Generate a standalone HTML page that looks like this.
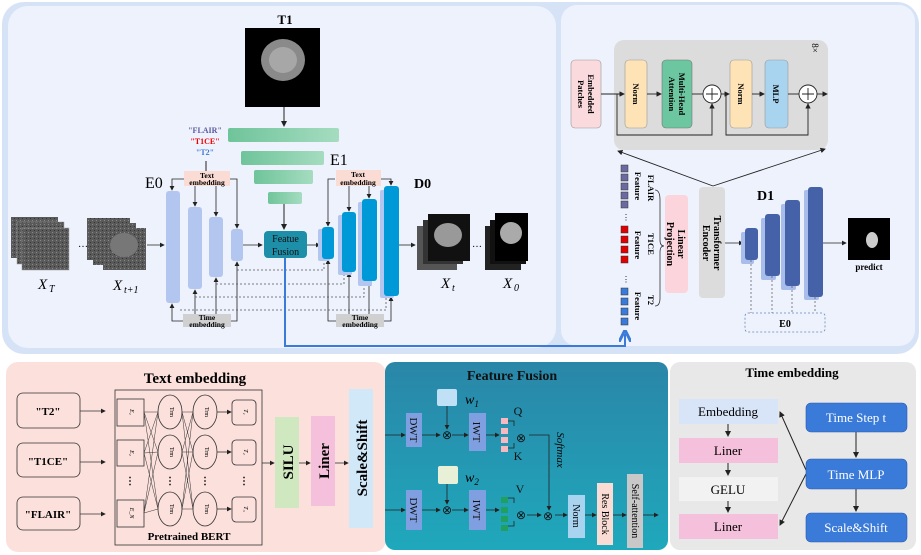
<!DOCTYPE html>
<html><head><meta charset="utf-8"><style>
html,body{margin:0;padding:0;background:#fff;}
svg{display:block;font-family:"Liberation Serif",serif;}
</style></head><body>
<svg width="921" height="555" viewBox="0 0 921 555" xmlns="http://www.w3.org/2000/svg">
<defs>
<marker id="a" markerWidth="6" markerHeight="6" refX="5" refY="3" orient="auto"><path d="M0,0 L6,3 L0,6 z" fill="#222"/></marker>
<marker id="ab" markerWidth="6" markerHeight="6" refX="4" refY="3" orient="auto"><path d="M0,0 L6,3 L0,6" fill="none" stroke="#3a7ad8" stroke-width="1.5"/></marker>
<linearGradient id="g" x1="0" x2="1"><stop offset="0" stop-color="#6fc49a"/><stop offset="1" stop-color="#a5dcc0"/></linearGradient>
<linearGradient id="ff" x1="0" y1="0" x2="0" y2="1"><stop offset="0" stop-color="#2a86a8"/><stop offset="1" stop-color="#1fa8bc"/></linearGradient>
<pattern id="noise" width="4" height="4" patternUnits="userSpaceOnUse"><rect width="4" height="4" fill="#5a5a5a"/><rect width="1" height="1" fill="#888"/><rect x="2" y="2" width="1" height="1" fill="#333"/></pattern>
</defs>
<!-- outer top -->
<rect x="2" y="2" width="917" height="352" rx="22" fill="#d6e3f7"/>
<rect x="8" y="6" width="548" height="342" rx="20" fill="#eef2fc"/>
<rect x="561" y="5" width="354" height="341" rx="16" fill="#eef2fc"/>
<!-- T1 -->
<text x="285" y="24" font-size="13" font-weight="bold" text-anchor="middle">T1</text>
<rect x="245" y="28" width="75" height="79" fill="#000"/>
<ellipse cx="283" cy="60" rx="22" ry="21" fill="#8a8a8a"/>
<ellipse cx="283" cy="60" rx="14" ry="13" fill="#bbb" opacity=".6"/>
<line x1="284" y1="107" x2="284" y2="126" stroke="#222" marker-end="url(#a)"/>
<rect x="228" y="128" width="111" height="14" rx="2" fill="url(#g)"/>
<rect x="241" y="151" width="83" height="14" rx="2" fill="url(#g)"/>
<rect x="254" y="170" width="59" height="14" rx="2" fill="url(#g)"/>
<rect x="268" y="192" width="34" height="12" rx="2" fill="url(#g)"/>
<text x="330" y="165" font-size="16">E1</text>
<line x1="284" y1="204" x2="284" y2="229" stroke="#222" marker-end="url(#a)"/>
<text x="205" y="133" font-size="8" font-weight="bold" text-anchor="middle" fill="#5a5aa0">"FLAIR"</text>
<text x="205" y="144" font-size="8" font-weight="bold" text-anchor="middle" fill="#e00">"T1CE"</text>
<text x="205" y="155" font-size="8" font-weight="bold" text-anchor="middle" fill="#3a7ad8">"T2"</text>
<line x1="206" y1="161" x2="206" y2="171" stroke="#222"/>
<!-- E0 text emb -->
<rect x="184" y="171" width="46" height="15" fill="#fadcd4"/>
<text x="207" y="178" font-size="7.5" font-weight="bold" text-anchor="middle">Text</text>
<text x="207" y="185" font-size="7.5" font-weight="bold" text-anchor="middle">embedding</text>
<text x="145" y="188" font-size="16">E0</text>
<g fill="none" stroke="#222" stroke-width="0.8">
<path d="M184,179 H172 V190" marker-end="url(#a)"/><path d="M230,179 H237 V228" marker-end="url(#a)"/>
<line x1="195" y1="186" x2="195" y2="206" marker-end="url(#a)"/><line x1="216" y1="186" x2="216" y2="216" marker-end="url(#a)"/>
<path d="M335,179 H328 V226" marker-end="url(#a)"/><path d="M381,179 H391 V185" marker-end="url(#a)"/>
<line x1="349" y1="186" x2="349" y2="211" marker-end="url(#a)"/><line x1="369" y1="186" x2="369" y2="198" marker-end="url(#a)"/>
<path d="M183,321 H172 V304" marker-end="url(#a)"/><path d="M231,321 H237 V262" marker-end="url(#a)"/>
<line x1="195" y1="314" x2="195" y2="290" marker-end="url(#a)"/><line x1="216" y1="314" x2="216" y2="278" marker-end="url(#a)"/>
<path d="M336,321 H328 V260" marker-end="url(#a)"/><path d="M384,321 H391 V297" marker-end="url(#a)"/>
<line x1="349" y1="314" x2="349" y2="273" marker-end="url(#a)"/><line x1="369" y1="314" x2="369" y2="282" marker-end="url(#a)"/>
<line x1="147" y1="245" x2="164" y2="245" marker-end="url(#a)"/>
<line x1="243" y1="245" x2="262" y2="245" marker-end="url(#a)"/>
<line x1="307" y1="245" x2="320" y2="245" marker-end="url(#a)"/>
<line x1="399" y1="245" x2="415" y2="245" marker-end="url(#a)"/>
</g>
<g stroke="#555" stroke-width="0.8" stroke-dasharray="2,2" fill="none">
<path d="M237,270 H324 V262"/><path d="M216,284 H344 V275"/><path d="M195,297 H364 V284"/><path d="M180,310 H386 V298"/>
</g>
<g fill="#b3c6f0"><rect x="166" y="191" width="14" height="112" rx="3"/><rect x="188" y="207" width="14" height="82" rx="3"/><rect x="209" y="217" width="14" height="60" rx="3"/><rect x="231" y="229" width="12" height="32" rx="3"/></g>
<rect x="264" y="231" width="43" height="27" rx="4" fill="#1e8fa8"/>
<text x="285.5" y="242" font-size="10" text-anchor="middle" fill="#111">Featue</text>
<text x="285.5" y="255" font-size="10" text-anchor="middle" fill="#111">Fusion</text>
<g fill="#b3c6f0"><rect x="318" y="229" width="12" height="32" rx="2"/><rect x="338" y="215" width="14" height="60" rx="2"/><rect x="358" y="202" width="14" height="84" rx="2"/><rect x="380" y="190" width="14" height="108" rx="2"/></g>
<g fill="#0099d8"><rect x="322" y="227" width="12" height="32" rx="3"/><rect x="342" y="212" width="14" height="60" rx="3"/><rect x="362" y="199" width="15" height="82" rx="3"/><rect x="384" y="186" width="15" height="110" rx="3"/></g>
<rect x="336" y="170" width="45" height="16" fill="#fadcd4"/>
<text x="358" y="177" font-size="7.5" font-weight="bold" text-anchor="middle">Text</text>
<text x="358" y="185" font-size="7.5" font-weight="bold" text-anchor="middle">embedding</text>
<text x="414" y="188" font-size="14" font-weight="bold">D0</text>
<rect x="183" y="314" width="48" height="13" fill="#d0d0d0"/>
<text x="207" y="320" font-size="7.5" font-weight="bold" text-anchor="middle">Time</text>
<text x="207" y="327" font-size="7.5" font-weight="bold" text-anchor="middle">embedding</text>
<rect x="336" y="314" width="48" height="13" fill="#d0d0d0"/>
<text x="360" y="320" font-size="7.5" font-weight="bold" text-anchor="middle">Time</text>
<text x="360" y="327" font-size="7.5" font-weight="bold" text-anchor="middle">embedding</text>
<!-- images -->
<rect x="11" y="217" width="47" height="41" fill="url(#noise)"/><rect x="17" y="222" width="47" height="42" fill="url(#noise)" stroke="#999" stroke-width=".5"/><rect x="22" y="228" width="47" height="42" fill="url(#noise)" stroke="#999" stroke-width=".5"/>
<text x="78" y="247" font-size="10">…</text>
<rect x="87" y="218" width="43" height="42" fill="url(#noise)"/><rect x="93" y="223" width="43" height="42" fill="url(#noise)"/><rect x="103" y="228" width="43" height="42" fill="url(#noise)"/>
<ellipse cx="124" cy="245" rx="14" ry="12" fill="#777"/>
<text x="38" y="289" font-size="15" font-style="italic">X</text><text x="49" y="292" font-size="10" font-style="italic">T</text>
<text x="113" y="290" font-size="15" font-style="italic">X</text><text x="124" y="293" font-size="10" font-style="italic">t+1</text>
<rect x="417" y="226" width="40" height="44" fill="#555"/><rect x="423" y="220" width="40" height="44" fill="#333"/><rect x="428" y="214" width="42" height="47" fill="#111"/>
<ellipse cx="448" cy="235" rx="14" ry="12" fill="#999"/>
<text x="441" y="288" font-size="15" font-style="italic">X</text><text x="452" y="291" font-size="10" font-style="italic">t</text>
<text x="472" y="247" font-size="10">…</text>
<rect x="485" y="226" width="36" height="44" fill="#222"/><rect x="490" y="220" width="36" height="44" fill="#111"/><rect x="495" y="213" width="33" height="48" fill="#000"/>
<ellipse cx="511" cy="233" rx="11" ry="11" fill="#aaa"/>
<text x="503" y="288" font-size="15" font-style="italic">X</text><text x="514" y="291" font-size="10" font-style="italic">0</text>
<path d="M285,258 V346 H625 V334" fill="none" stroke="#3a7ad8" stroke-width="2" marker-end="url(#ab)"/>
<!-- right panel -->
<rect x="614" y="40" width="214" height="110" rx="10" fill="#dcdcdc"/>
<rect x="571" y="60" width="30" height="68" rx="4" fill="#fadadd" stroke="#999" stroke-width=".6"/>
<text transform="translate(586,94) rotate(90)" font-size="8.5" font-weight="bold" text-anchor="middle"><tspan x="0" y="-2">Embedded</tspan><tspan x="0" y="8">Patches</tspan></text>
<rect x="625" y="60" width="22" height="68" rx="4" fill="#fde3b5" stroke="#999" stroke-width=".6"/>
<text transform="translate(636,94) rotate(90)" font-size="8.5" font-weight="bold" text-anchor="middle" y="3">Norm</text>
<rect x="662" y="60" width="30" height="68" rx="4" fill="#6cc6a0" stroke="#777" stroke-width=".6"/>
<text transform="translate(677,94) rotate(90)" font-size="8.5" font-weight="bold" text-anchor="middle"><tspan x="0" y="-2">Multi-Head</tspan><tspan x="0" y="8">Attention</tspan></text>
<rect x="730" y="60" width="22" height="68" rx="4" fill="#fde3b5" stroke="#999" stroke-width=".6"/>
<text transform="translate(741,94) rotate(90)" font-size="8.5" font-weight="bold" text-anchor="middle" y="3">Norm</text>
<rect x="765" y="60" width="23" height="68" rx="4" fill="#a8d4f0" stroke="#999" stroke-width=".6"/>
<text transform="translate(776,94) rotate(90)" font-size="8.5" font-weight="bold" text-anchor="middle" y="3">MLP</text>
<g fill="none" stroke="#222" stroke-width="0.9">
<line x1="601" y1="94" x2="624" y2="94" marker-end="url(#a)"/><line x1="647" y1="94" x2="661" y2="94" marker-end="url(#a)"/>
<line x1="692" y1="94" x2="703" y2="94"/><line x1="721" y1="94" x2="729" y2="94" marker-end="url(#a)"/>
<line x1="752" y1="94" x2="764" y2="94" marker-end="url(#a)"/><line x1="788" y1="94" x2="799" y2="94"/>
<line x1="817" y1="94" x2="827" y2="94" marker-end="url(#a)"/>
<path d="M617,94 V135 H712 V104" marker-end="url(#a)"/><path d="M726,94 V135 H808 V104" marker-end="url(#a)"/>
<circle cx="712" cy="94" r="9" fill="#fff"/><circle cx="808" cy="94" r="9" fill="#fff"/>
<path d="M706,94 H718 M712,88 V100 M802,94 H814 M808,88 V100"/>
<line x1="713" y1="186" x2="618" y2="151" marker-end="url(#a)"/><line x1="713" y1="186" x2="825" y2="149" marker-end="url(#a)"/>
</g>
<text transform="translate(812,48) rotate(90)" font-size="9" text-anchor="middle">8×</text>
<g stroke="#333" stroke-width=".5">
<g fill="#6a6aa0"><rect x="621" y="165" width="7" height="7"/><rect x="621" y="174" width="7" height="7"/><rect x="621" y="183" width="7" height="7"/><rect x="621" y="192" width="7" height="7"/><rect x="621" y="201" width="7" height="7"/></g>
<g fill="#e00000"><rect x="621" y="226" width="7" height="7"/><rect x="621" y="236" width="7" height="7"/><rect x="621" y="246" width="7" height="7"/><rect x="621" y="256" width="7" height="7"/></g>
<g fill="#3a7ad8"><rect x="621" y="288" width="7" height="7"/><rect x="621" y="298" width="7" height="7"/><rect x="621" y="308" width="7" height="7"/><rect x="621" y="318" width="7" height="7"/></g>
</g>
<text x="622" y="220" font-size="8">⋮</text><text x="622" y="282" font-size="8">⋮</text>
<g font-size="8.5" font-weight="bold">
<text transform="translate(635,186) rotate(90)" text-anchor="middle">Feature</text>
<text transform="translate(648,188) rotate(90)" text-anchor="middle">FLAIR</text>
<text transform="translate(635,245) rotate(90)" text-anchor="middle">Feature</text>
<text transform="translate(648,244) rotate(90)" text-anchor="middle">T1CE</text>
<text transform="translate(635,306) rotate(90)" text-anchor="middle">Feature</text>
<text transform="translate(648,300) rotate(90)" text-anchor="middle">T2</text>
</g>
<path d="M655,190 Q660,190 660,200 V240 Q660,246 664,246 Q660,246 660,252 V298 Q660,306 655,306" fill="none" stroke="#333" stroke-width=".8"/>
<rect x="665" y="195" width="23" height="98" rx="4" fill="#fcd4dc"/>
<text transform="translate(676,244) rotate(90)" font-size="10" font-weight="bold" text-anchor="middle"><tspan x="0" y="-2">Linear</tspan><tspan x="0" y="9">Projection</tspan></text>
<rect x="699" y="187" width="26" height="111" rx="4" fill="#dcdcdc"/>
<text transform="translate(712,243) rotate(90)" font-size="10" font-weight="bold" text-anchor="middle"><tspan x="0" y="-2">Transformer</tspan><tspan x="0" y="9">Encoder</tspan></text>
<line x1="725" y1="243" x2="743" y2="243" stroke="#222" stroke-width=".8" marker-end="url(#a)"/>
<text x="757" y="200" font-size="14" font-weight="bold">D1</text>
<g fill="#a8bdec"><rect x="741" y="232" width="13" height="32" rx="2"/><rect x="761" y="218" width="15" height="62" rx="2"/><rect x="781" y="204" width="15" height="86" rx="2"/><rect x="804" y="190" width="15" height="110" rx="2"/></g>
<g fill="#4562a8"><rect x="745" y="228" width="13" height="32" rx="3"/><rect x="765" y="214" width="15" height="62" rx="3"/><rect x="785" y="200" width="15" height="86" rx="3"/><rect x="808" y="187" width="15" height="110" rx="3"/></g>
<line x1="823" y1="243" x2="846" y2="243" stroke="#222" stroke-width=".8" marker-end="url(#a)"/>
<rect x="745" y="313" width="80" height="19" rx="3" fill="none" stroke="#6688bb" stroke-width=".8" stroke-dasharray="2,2"/>
<text x="785" y="327" font-size="10" font-weight="bold" text-anchor="middle">E0</text>
<g stroke="#555" stroke-width=".7" stroke-dasharray="2,2"><line x1="751" y1="260" x2="751" y2="313"/><line x1="772" y1="276" x2="772" y2="313"/><line x1="792" y1="286" x2="792" y2="313"/><line x1="815" y1="297" x2="815" y2="313"/></g>
<rect x="848" y="218" width="42" height="42" fill="#000"/>
<ellipse cx="872" cy="240" rx="6" ry="8" fill="#ccc"/>
<text x="869" y="270" font-size="9" font-weight="bold" text-anchor="middle">predict</text>
<!-- bottom: text embedding -->
<rect x="6" y="362" width="380" height="190" rx="12" fill="#fbe0dc"/>
<text x="195" y="383" font-size="15" font-weight="bold" text-anchor="middle">Text embedding</text>
<g fill="none" stroke="#333" stroke-width=".8">
<rect x="17" y="393" width="63" height="35" rx="6"/><rect x="17" y="443" width="63" height="34" rx="6"/><rect x="17" y="497" width="63" height="33" rx="6"/>
<line x1="80" y1="411" x2="105" y2="411" marker-end="url(#a)"/><line x1="80" y1="462" x2="105" y2="462" marker-end="url(#a)"/><line x1="80" y1="514" x2="105" y2="514" marker-end="url(#a)"/>
<rect x="115" y="390" width="147" height="155"/>
<rect x="117" y="399" width="27" height="27"/><rect x="117" y="440" width="27" height="26"/><rect x="117" y="500" width="27" height="27"/>
<g stroke-width=".5">
<path d="M144,412 L158,412 M144,412 L158,452 M144,412 L158,509 M144,453 L158,412 M144,453 L158,452 M144,453 L158,509 M144,513 L158,412 M144,513 L158,452 M144,513 L158,509"/>
<path d="M182,412 L193,412 M182,412 L193,452 M182,412 L193,509 M182,452 L193,412 M182,452 L193,452 M182,452 L193,509 M182,509 L193,412 M182,509 L193,452 M182,509 L193,509"/>
</g>
<ellipse cx="170" cy="412" rx="12" ry="17"/><ellipse cx="170" cy="452" rx="12" ry="17"/><ellipse cx="170" cy="509" rx="12" ry="17"/>
<ellipse cx="205" cy="412" rx="12" ry="17"/><ellipse cx="205" cy="452" rx="12" ry="17"/><ellipse cx="205" cy="509" rx="12" ry="17"/>
<rect x="232" y="400" width="24" height="25" rx="4"/><rect x="232" y="440" width="24" height="25" rx="4"/><rect x="232" y="497" width="24" height="25" rx="4"/>
<line x1="217" y1="412" x2="231" y2="412" marker-end="url(#a)"/><line x1="217" y1="452" x2="231" y2="452" marker-end="url(#a)"/><line x1="217" y1="509" x2="231" y2="509" marker-end="url(#a)"/>
<line x1="262" y1="463" x2="274" y2="463" marker-end="url(#a)"/><line x1="299" y1="463" x2="310" y2="463" marker-end="url(#a)"/><line x1="335" y1="463" x2="348" y2="463" marker-end="url(#a)"/>
</g>
<g font-size="11" font-weight="bold" text-anchor="middle"><text x="48" y="415">"T2"</text><text x="48" y="465">"T1CE"</text><text x="48" y="518">"FLAIR"</text></g>
<g font-size="6" font-style="italic" text-anchor="middle">
<text transform="translate(130,412) rotate(90)">E₁</text><text transform="translate(130,453) rotate(90)">E₂</text><text transform="translate(130,513) rotate(90)">E_N</text>
<text transform="translate(244,412) rotate(90)">T₁</text><text transform="translate(244,452) rotate(90)">T₂</text><text transform="translate(244,509) rotate(90)">T₃</text>
</g>
<g font-size="6" text-anchor="middle">
<text transform="translate(170,412) rotate(90)">Trm</text><text transform="translate(170,452) rotate(90)">Trm</text><text transform="translate(170,509) rotate(90)">Trm</text>
<text transform="translate(205,412) rotate(90)">Trm</text><text transform="translate(205,452) rotate(90)">Trm</text><text transform="translate(205,509) rotate(90)">Trm</text>
</g>
<g font-size="10" font-weight="bold" text-anchor="middle"><text x="130" y="484">⋮</text><text x="170" y="484">⋮</text><text x="205" y="484">⋮</text><text x="244" y="484">⋮</text></g>
<text x="189" y="540" font-size="11" font-weight="bold" text-anchor="middle">Pretrained BERT</text>
<rect x="275" y="417" width="24" height="91" fill="#cfe8c0"/>
<text transform="translate(287,462) rotate(-90)" font-size="15" font-weight="bold" text-anchor="middle" y="6">SILU</text>
<rect x="311" y="416" width="24" height="90" fill="#f5c0dc"/>
<text transform="translate(323,461) rotate(-90)" font-size="15" font-weight="bold" text-anchor="middle" y="6">Liner</text>
<rect x="349" y="389" width="24" height="139" fill="#d0e8f8"/>
<text transform="translate(361,458) rotate(-90)" font-size="15" font-weight="bold" text-anchor="middle" y="6">Scale&amp;Shift</text>
<!-- feature fusion -->
<rect x="385" y="362" width="283" height="188" rx="10" fill="url(#ff)"/>
<text x="512" y="380" font-size="14" font-weight="bold" text-anchor="middle" fill="#111">Feature Fusion</text>
<g fill="none" stroke="#222" stroke-width=".8">
<line x1="385" y1="435" x2="405" y2="435" marker-end="url(#a)"/><line x1="385" y1="510" x2="405" y2="510" marker-end="url(#a)"/>
<line x1="422" y1="435" x2="440" y2="435" marker-end="url(#a)"/><line x1="452" y1="435" x2="468" y2="435" marker-end="url(#a)"/><line x1="486" y1="435" x2="499" y2="435" marker-end="url(#a)"/>
<line x1="422" y1="510" x2="440" y2="510" marker-end="url(#a)"/><line x1="452" y1="510" x2="468" y2="510" marker-end="url(#a)"/><line x1="486" y1="510" x2="499" y2="510" marker-end="url(#a)"/>
<line x1="447" y1="406" x2="447" y2="429" marker-end="url(#a)"/><line x1="447" y1="484" x2="447" y2="504" marker-end="url(#a)"/>
<path d="M508,421 H514 V426 M508,448 H514 V443 M508,498 H514 V503 M508,526 H514 V521"/>
<path d="M529,435 H549 V510" marker-end="url(#a)"/><line x1="527" y1="515" x2="541" y2="515" marker-end="url(#a)"/>
<line x1="555" y1="515" x2="567" y2="515" marker-end="url(#a)"/><line x1="585" y1="515" x2="596" y2="515" marker-end="url(#a)"/>
<line x1="613" y1="515" x2="626" y2="515" marker-end="url(#a)"/><line x1="643" y1="515" x2="658" y2="515" marker-end="url(#a)"/>
</g>
<rect x="406" y="413" width="16" height="34" fill="#7f9fe0"/><rect x="406" y="490" width="16" height="40" fill="#7f9fe0"/>
<rect x="469" y="413" width="17" height="38" fill="#7f9fe0"/><rect x="469" y="490" width="17" height="40" fill="#7f9fe0"/>
<g font-size="11" text-anchor="middle" fill="#111">
<text transform="translate(414,430) rotate(90)" y="4">DWT</text><text transform="translate(414,510) rotate(90)" y="4">DWT</text>
<text transform="translate(477,432) rotate(90)" y="4">IWT</text><text transform="translate(477,510) rotate(90)" y="4">IWT</text>
</g>
<rect x="437" y="389" width="20" height="17" rx="2" fill="#bfe0f5"/><rect x="438" y="466" width="20" height="18" rx="2" fill="#e8f0d8"/>
<text x="465" y="404" font-size="14" font-style="italic">w<tspan font-size="9" dy="3">1</tspan></text>
<text x="465" y="482" font-size="14" font-style="italic">w<tspan font-size="9" dy="3">2</tspan></text>
<g fill="#f8b8c0"><rect x="501" y="418" width="7" height="6"/><rect x="501" y="428" width="7" height="6"/><rect x="501" y="437" width="7" height="6"/><rect x="501" y="446" width="7" height="6"/></g>
<g fill="#20a060"><rect x="501" y="497" width="7" height="6"/><rect x="501" y="507" width="7" height="6"/><rect x="501" y="516" width="7" height="6"/><rect x="501" y="525" width="7" height="6"/></g>
<g font-size="12" text-anchor="middle" fill="#111">
<text x="447" y="439">⊗</text><text x="447" y="514">⊗</text><text x="521" y="442">⊗</text><text x="521" y="519">⊗</text><text x="548" y="520">⊗</text>
<text x="518" y="415">Q</text><text x="518" y="460">K</text><text x="520" y="493">V</text>
</g>
<text transform="translate(557,450) rotate(90)" font-size="11" font-style="italic" text-anchor="middle">Softmax</text>
<rect x="568" y="495" width="17" height="43" fill="#a8d4f0"/><text transform="translate(576,516) rotate(90)" font-size="10" text-anchor="middle" y="3">Norm</text>
<rect x="597" y="483" width="16" height="62" fill="#fadcd4"/><text transform="translate(605,514) rotate(90)" font-size="10" text-anchor="middle" y="3">Res Block</text>
<rect x="627" y="474" width="16" height="74" fill="#c8c8c8"/><text transform="translate(635,511) rotate(90)" font-size="10" text-anchor="middle" y="3">Self-attention</text>
<!-- time embedding -->
<rect x="670" y="362" width="246" height="188" rx="10" fill="#e8e8e8"/>
<text x="792" y="377" font-size="13" font-weight="bold" text-anchor="middle">Time embedding</text>
<rect x="679" y="399" width="99" height="25" fill="#d8e4f8"/><text x="728" y="416" font-size="13" text-anchor="middle">Embedding</text>
<rect x="679" y="438" width="99" height="25" fill="#f5c0dc"/><text x="728" y="455" font-size="13" text-anchor="middle">Liner</text>
<rect x="679" y="477" width="99" height="24" fill="#f2f2f2"/><text x="728" y="494" font-size="13" text-anchor="middle">GELU</text>
<rect x="679" y="514" width="99" height="25" fill="#f5c0dc"/><text x="728" y="531" font-size="13" text-anchor="middle">Liner</text>
<g fill="none" stroke="#222" stroke-width="1">
<line x1="728" y1="424" x2="728" y2="436" marker-end="url(#a)"/><line x1="728" y1="463" x2="728" y2="475" marker-end="url(#a)"/><line x1="728" y1="501" x2="728" y2="512" marker-end="url(#a)"/>
<line x1="806" y1="470" x2="780" y2="412" marker-end="url(#a)"/><line x1="806" y1="474" x2="780" y2="525" marker-end="url(#a)"/>
<line x1="856" y1="432" x2="856" y2="457" marker-end="url(#a)"/><line x1="856" y1="489" x2="856" y2="511" marker-end="url(#a)"/>
</g>
<g fill="#3a7ad8" stroke="#2a5ab0" stroke-width=".6"><rect x="806" y="403" width="101" height="29" rx="5"/><rect x="806" y="459" width="101" height="30" rx="5"/><rect x="806" y="513" width="101" height="29" rx="5"/></g>
<g font-size="13" fill="#fff" text-anchor="middle"><text x="856" y="422">Time   Step t</text><text x="856" y="479">Time   MLP</text><text x="856" y="532">Scale&amp;Shift</text></g>
</svg>
</body></html>
